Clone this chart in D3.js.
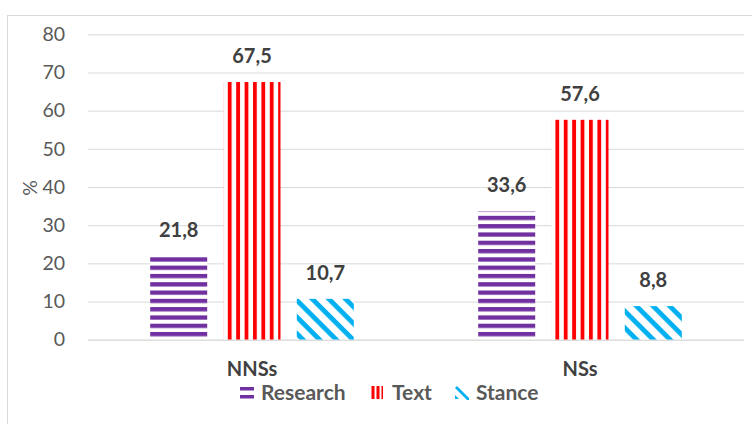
<!DOCTYPE html>
<html><head><meta charset="utf-8">
<script src="https://cdn.jsdelivr.net/npm/d3@7"></script>
<style>body{margin:0;background:#fff}svg{display:block}text{font-family:Lato,"Open Sans",sans-serif}</style>
</head><body>
<svg id="c" width="752" height="424"></svg>
<script>
const categories = ["NNSs", "NSs"];
const seriesNames = ["Research", "Text", "Stance"];
const research = [21.8, 33.6];
const text = [67.5, 57.6];
const stance = [10.7, 8.8];
const yTicks = [0, 10, 20, 30, 40, 50, 60, 70, 80];

(function(){
const svg = d3.select("#c");
const defs = svg.append("defs");
const pR = defs.append("pattern").attr("id","pR").attr("patternUnits","userSpaceOnUse").attr("width",10).attr("height",8.3);
pR.append("rect").attr("width",10).attr("height",8.3).attr("fill","#fff");
pR.append("rect").attr("y",0).attr("width",10).attr("height",4.3).attr("fill","#7030A0");
const pT = defs.append("pattern").attr("id","pT").attr("patternUnits","userSpaceOnUse").attr("width",8.4).attr("height",10).attr("x",1);
pT.append("rect").attr("width",8.4).attr("height",10).attr("fill","#fff");
pT.append("rect").attr("x",0).attr("width",3.8).attr("height",10).attr("fill","#FF0000");
const pS = defs.append("pattern").attr("id","pS").attr("patternUnits","userSpaceOnUse").attr("width",10).attr("height",11.8).attr("patternTransform","rotate(45)");
pS.append("rect").attr("width",10).attr("height",11.8).attr("fill","#fff");
pS.append("rect").attr("width",10).attr("height",4.8).attr("fill","#00B0F0");
const fills = ["url(#pR)","url(#pT)","url(#pS)"];

svg.append("rect").attr("x",7.5).attr("y",15.5).attr("width",800).attr("height",500).attr("fill","none").attr("stroke","#d9d9d9");

const pl = 88, pr = 744, pt = 34.3, pb = 339.7;
const y = d3.scaleLinear().domain([0,80]).range([pb, pt]);
const x0 = d3.scaleBand().domain(categories).range([pl, pr]).paddingInner(0).paddingOuter(0);

const yAxis = d3.axisLeft(y).tickValues(yTicks).tickSize(-(pr-pl)).tickPadding(23);
const ga = svg.append("g").attr("transform",`translate(${pl},0)`).call(yAxis);
ga.select(".domain").remove();
ga.selectAll(".tick line").attr("stroke","#d9d9d9").attr("stroke-width",1);
ga.selectAll(".tick text").attr("fill","#595959").style("font-size","19.5px").style("font-family","Lato,sans-serif");

const series = [research, text, stance];
const bw = 57, gap = 16.3;
const groupW = 3*bw + 2*gap;
const x1 = d3.scaleBand().domain(seriesNames)
  .range([x0.bandwidth()/2 - groupW/2, x0.bandwidth()/2 + groupW/2])
  .paddingInner(gap/(bw+gap)).paddingOuter(0);

const gb = svg.append("g");
categories.forEach((cat, ci) => {
  seriesNames.forEach((s, si) => {
    const v = series[si][ci];
    const bx = x0(cat) + x1(s);
    gb.append("rect").attr("x", bx).attr("y", y(v)).attr("width", x1.bandwidth()).attr("height", y(0)-y(v)).attr("fill", fills[si]);
    gb.append("text").attr("x", bx + x1.bandwidth()/2).attr("y", y(v) - 19).attr("text-anchor","middle")
      .attr("fill","#404040").style("font-size","20px").style("font-weight","bold").text(String(v).replace(".",","));
  });
  svg.append("text").attr("x", x0(cat)+x0.bandwidth()/2).attr("y", 376).attr("text-anchor","middle")
    .attr("fill","#404040").style("font-size","20px").style("font-weight","bold").text(cat);
});
svg.append("line").attr("x1",pl).attr("x2",pr).attr("y1",pb+0.5).attr("y2",pb+0.5).attr("stroke","#d9d9d9");

svg.append("text").attr("transform","translate(37,188) rotate(-90)").attr("text-anchor","middle")
  .attr("fill","#595959").style("font-size","19.5px").text("%");

const legX = [240, 371, 455];
seriesNames.forEach((s, i) => {
  const g = svg.append("g").attr("transform",`translate(${legX[i]},386)`);
  if (i===0){
    g.append("rect").attr("x",0).attr("y",1).attr("width",14).attr("height",3.5).attr("fill","#7030A0");
    g.append("rect").attr("x",0).attr("y",9).attr("width",14).attr("height",3.5).attr("fill","#7030A0");
  } else if (i===1){
    [0,5,10].forEach((dx,k)=> g.append("rect").attr("x",dx+0.5).attr("y",0).attr("width",k==2?1.5:3).attr("height",13).attr("fill","#FF0000"));
  } else {
    g.append("path").attr("d","M2,0 L14,12 L14,14 L12,14 L0,2 Z").attr("fill","#00B0F0");
    g.append("path").attr("d","M0,9 L4,13 L0,13 Z").attr("fill","#00B0F0");
  }
  g.append("text").attr("x",21).attr("y",13.5).attr("fill","#595959").style("font-size","21px").style("font-weight","bold").text(s);
});
})();
</script>
</body></html>
